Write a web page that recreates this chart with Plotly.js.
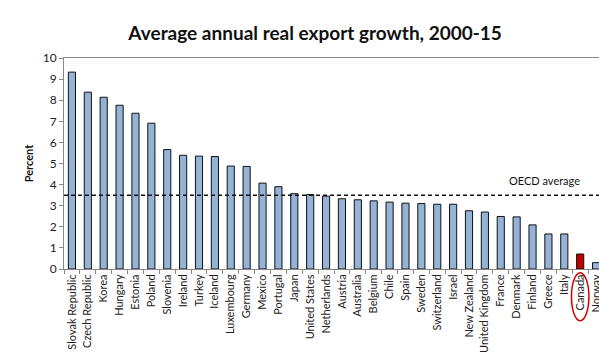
<!DOCTYPE html>
<html>
<head>
<meta charset="utf-8">
<script src="https://cdn.plot.ly/plotly-3.0.1.min.js"></script>
<style>
html,body{margin:0;padding:0;overflow:hidden;background:#fff;}
#chart{width:606px;height:354px;}
</style>
</head>
<body>
<div id="chart"></div>
<script>
const countries = ["Slovak Republic","Czech Republic","Korea","Hungary","Estonia","Poland","Slovenia","Ireland","Turkey","Iceland","Luxembourg","Germany","Mexico","Portugal","Japan","United States","Netherlands","Austria","Australia","Belgium","Chile","Spain","Sweden","Switzerland","Israel","New Zealand","United Kingdom","France","Denmark","Finland","Greece","Italy","Canada","Norway"];
const growth = [9.33,8.38,8.14,7.76,7.38,6.91,5.66,5.39,5.35,5.33,4.88,4.86,4.07,3.90,3.57,3.53,3.45,3.33,3.28,3.23,3.17,3.12,3.10,3.07,3.07,2.76,2.70,2.49,2.47,2.09,1.66,1.66,0.71,0.30];
const oecdAvg = 3.5;
const highlight = "Canada";
const yTicks = [0,1,2,3,4,5,6,7,8,9,10];

const colors = countries.map(c => c === highlight ? "#C00000" : "#95B3D7");
const idx = countries.indexOf(highlight);
const font = "Lato, 'Open Sans', sans-serif";

const trace = {
  type: "bar",
  x: countries,
  y: growth,
  marker: {color: colors, line: {color: "#111", width: 1}},
  width: 0.45,
  hoverinfo: "x+y"
};

const layout = {
  width: 606, height: 354,
  margin: {l: 64, r: 2, t: 58, b: 85},
  paper_bgcolor: "#fff", plot_bgcolor: "#fff",
  font: {family: font, color: "#222"},
  showlegend: false,
  title: {text: "<b>Average annual real export growth, 2000-15</b>", x: 0.52, xref: "container", y: 0.905, yref: "container", yanchor: "middle", xanchor: "center", font: {family: font, size: 19, color: "#111"}},
  xaxis: {
    type: "category",
    tickangle: -90,
    tickfont: {size: 11, color: "#222"},
    ticks: "outside", ticklen: 4, tickcolor: "#888",
    tickson: "boundaries",
    showline: true, linecolor: "#888", linewidth: 1, mirror: true,
    showgrid: false, range: [-0.5, countries.length - 0.5],
    automargin: false
  },
  yaxis: {
    range: [0, 10],
    tickvals: yTicks,
    tickfont: {size: 12, color: "#222"},
    ticks: "outside", ticklen: 4, tickcolor: "#888",
    showline: true, linecolor: "#888", linewidth: 1,
    showgrid: false, zeroline: false,
    title: {text: "<b>Percent</b>", font: {size: 11, color: "#111"}, standoff: 6},
    automargin: false
  },
  shapes: [
    {type: "line", xref: "paper", yref: "y", x0: 0, x1: 1, y0: oecdAvg, y1: oecdAvg,
     line: {color: "#111", width: 1.5, dash: "4px,3px"}},
    {type: "circle", xref: "x", yref: "paper", x0: idx - 0.55, x1: idx + 0.55, y0: -0.245, y1: -0.018,
     line: {color: "#D00000", width: 1.5}}
  ],
  annotations: [
    {text: "OECD average", xref: "paper", yref: "y", x: 0.959, y: oecdAvg + 0.28, xanchor: "right", yanchor: "bottom",
     showarrow: false, font: {size: 11, color: "#111"}}
  ]
};

Plotly.newPlot("chart", [trace], layout, {displayModeBar: false, staticPlot: true});
</script>
</body>
</html>
